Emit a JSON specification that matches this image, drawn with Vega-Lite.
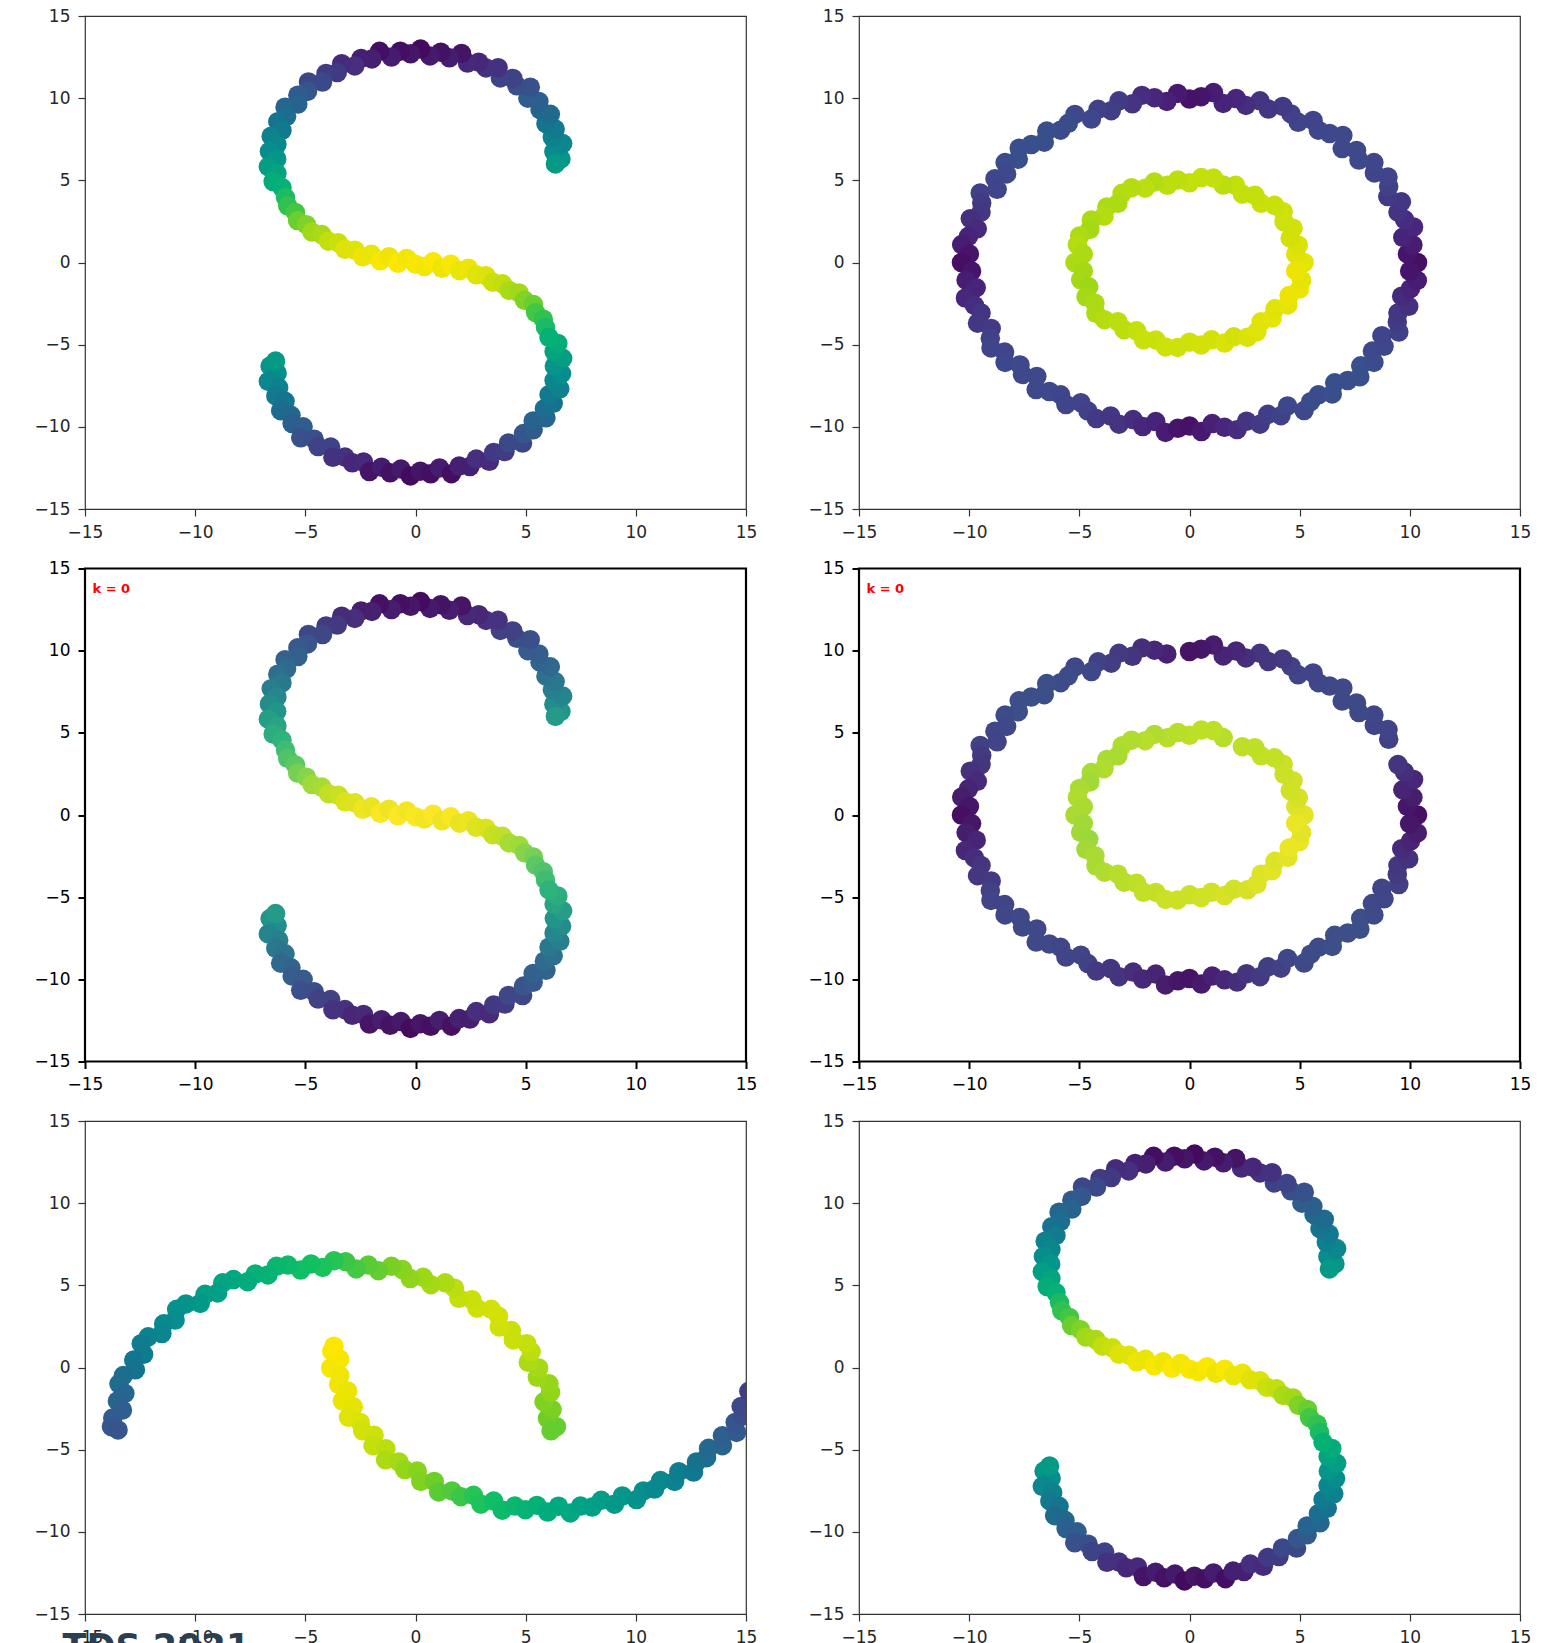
{
"$schema": "https://vega.github.io/schema/vega-lite/v6.json",
"background": "white",
"padding": {"left": 33, "top": 6, "right": 5, "bottom": 5},
"config": {
  "font": "DejaVu Sans",
  "view": {"stroke": "#333333", "strokeWidth": 1.2},
  "axis": {"grid": false, "domain": false, "tickSize": 7, "tickWidth": 1.2, "tickColor": "#333333", "labelFontSize": 17, "labelFont": "DejaVu Sans", "labelColor": "#262626", "labelPadding": 8, "labelFlush": false, "labelOverlap": false, "title": null}
},
"datasets": {
"s": [
{"x":6.6,"y":6.3},{"x":6.28,"y":6.74},{"x":6.68,"y":7.24},{"x":6.21,"y":7.62},{"x":6.34,"y":8.12},{"x":5.92,"y":8.45},{"x":6.12,"y":9.02},{"x":5.65,"y":9.3},{"x":5.6,"y":9.8},{"x":5.1,"y":10},{"x":5.21,"y":10.67},{"x":4.6,"y":10.75},{"x":4.42,"y":11.2},{"x":3.85,"y":11.23},{"x":3.75,"y":11.85},{"x":3.2,"y":11.84},{"x":2.87,"y":12.19},{"x":2.36,"y":12.14},{"x":2.09,"y":12.72},{"x":1.54,"y":12.46},{"x":1.15,"y":12.8},{"x":0.66,"y":12.57},{"x":0.23,"y":12.99},{"x":-0.22,"y":12.7},{"x":-0.69,"y":12.86},{"x":-1.09,"y":12.5},{"x":-1.63,"y":12.85},{"x":-1.98,"y":12.39},{"x":-2.47,"y":12.42},{"x":-2.76,"y":11.96},{"x":-3.35,"y":12.1},{"x":-3.55,"y":11.56},{"x":-4.06,"y":11.5},{"x":-4.22,"y":10.98},{"x":-4.86,"y":10.99},{"x":-4.9,"y":10.41},{"x":-5.34,"y":10.18},{"x":-5.34,"y":9.64},{"x":-5.92,"y":9.45},{"x":-5.85,"y":8.9},{"x":-6.25,"y":8.57},{"x":-6.06,"y":8.04},{"x":-6.55,"y":7.69},{"x":-6.29,"y":7.18},{"x":-6.63,"y":6.76},{"x":-6.3,"y":6.3},{"x":-6.68,"y":5.83},{"x":-6.29,"y":5.42},{"x":-6.46,"y":4.93},{"x":-6.06,"y":4.56},{"x":6.35,"y":6.0},
{"x":-5.9,"y":3.95},{"x":-5.8,"y":3.45},{"x":-5.45,"y":3.05},{"x":-5.35,"y":2.55},{"x":-4.95,"y":2.3},{"x":-4.7,"y":1.85},{"x":-4.25,"y":1.7},{"x":-3.95,"y":1.3},{"x":-3.5,"y":1.2},{"x":-3.2,"y":0.8},{"x":-2.75,"y":0.75},{"x":-2.4,"y":0.35},{"x":-2,"y":0.5},{"x":-1.6,"y":0.1},{"x":-1.2,"y":0.35},{"x":-0.8,"y":-0.05},{"x":-0.4,"y":0.25},{"x":0,"y":-0.1},{"x":0.4,"y":-0.25},{"x":0.8,"y":0.05},{"x":1.2,"y":-0.35},{"x":1.6,"y":-0.1},{"x":2,"y":-0.5},{"x":2.4,"y":-0.35},{"x":2.75,"y":-0.75},{"x":3.2,"y":-0.8},{"x":3.5,"y":-1.2},{"x":3.95,"y":-1.3},{"x":4.25,"y":-1.7},{"x":4.7,"y":-1.85},{"x":4.95,"y":-2.3},{"x":5.35,"y":-2.55},{"x":5.45,"y":-3.05},{"x":5.8,"y":-3.45},{"x":5.9,"y":-3.95},
{"x":-6.6,"y":-6.3},{"x":-6.28,"y":-6.74},{"x":-6.68,"y":-7.24},{"x":-6.21,"y":-7.62},{"x":-6.34,"y":-8.12},{"x":-5.92,"y":-8.45},{"x":-6.12,"y":-9.02},{"x":-5.65,"y":-9.3},{"x":-5.6,"y":-9.8},{"x":-5.1,"y":-10},{"x":-5.21,"y":-10.67},{"x":-4.6,"y":-10.75},{"x":-4.42,"y":-11.2},{"x":-3.85,"y":-11.23},{"x":-3.75,"y":-11.85},{"x":-3.2,"y":-11.84},{"x":-2.87,"y":-12.19},{"x":-2.36,"y":-12.14},{"x":-2.09,"y":-12.72},{"x":-1.54,"y":-12.46},{"x":-1.15,"y":-12.8},{"x":-0.66,"y":-12.57},{"x":-0.23,"y":-12.99},{"x":0.22,"y":-12.7},{"x":0.69,"y":-12.86},{"x":1.09,"y":-12.5},{"x":1.63,"y":-12.85},{"x":1.98,"y":-12.39},{"x":2.47,"y":-12.42},{"x":2.76,"y":-11.96},{"x":3.35,"y":-12.1},{"x":3.55,"y":-11.56},{"x":4.06,"y":-11.5},{"x":4.22,"y":-10.98},{"x":4.86,"y":-10.99},{"x":4.9,"y":-10.41},{"x":5.34,"y":-10.18},{"x":5.34,"y":-9.64},{"x":5.92,"y":-9.45},{"x":5.85,"y":-8.9},{"x":6.25,"y":-8.57},{"x":6.06,"y":-8.04},{"x":6.55,"y":-7.69},{"x":6.29,"y":-7.18},{"x":6.63,"y":-6.76},{"x":6.3,"y":-6.3},{"x":6.68,"y":-5.83},{"x":6.29,"y":-5.42},{"x":6.46,"y":-4.93},{"x":6.06,"y":-4.56},{"x":-6.35,"y":-6.0}
],
"c": [
{"x":10.35,"y":0,"c":0.04},{"x":9.89,"y":0.52,"c":0.06},{"x":10.14,"y":1.07,"c":0.08},{"x":9.68,"y":1.53,"c":0.1},{"x":10.17,"y":2.16,"c":0.11},{"x":9.76,"y":2.61,"c":0.13},{"x":9.46,"y":3.07,"c":0.15},{"x":9.62,"y":3.69,"c":0.16,"g":1},{"x":9,"y":4.01,"c":0.17,"g":1},{"x":9.04,"y":4.61,"c":0.19},{"x":9.01,"y":5.2,"c":0.2},{"x":8.39,"y":5.45,"c":0.2},{"x":8.37,"y":6.08,"c":0.21},{"x":7.69,"y":6.23,"c":0.22},{"x":7.58,"y":6.82,"c":0.22},{"x":6.93,"y":6.93,"c":0.22},{"x":6.96,"y":7.73,"c":0.22},{"x":6.36,"y":7.85,"c":0.22},{"x":5.85,"y":8.05,"c":0.21},{"x":5.61,"y":8.64,"c":0.2},{"x":4.93,"y":8.53,"c":0.2},{"x":4.61,"y":9.04,"c":0.19},{"x":4.23,"y":9.5,"c":0.17},{"x":3.58,"y":9.34,"c":0.16},{"x":3.2,"y":9.84,"c":0.15},{"x":2.56,"y":9.56,"c":0.13},{"x":2.12,"y":9.98,"c":0.11},{"x":1.53,"y":9.68,"c":0.1},{"x":1.09,"y":10.34,"c":0.08},{"x":0.53,"y":10.09,"c":0.06},
{"x":0,"y":9.95,"c":0.05},{"x":-0.54,"y":10.29,"c":0.07,"g":1},{"x":-1.03,"y":9.8,"c":0.09},{"x":-1.59,"y":10.03,"c":0.11},{"x":-2.16,"y":10.17,"c":0.13},{"x":-2.59,"y":9.66,"c":0.15},{"x":-3.2,"y":9.84,"c":0.17},{"x":-3.55,"y":9.24,"c":0.18},{"x":-4.15,"y":9.32,"c":0.19},{"x":-4.45,"y":8.73,"c":0.21},{"x":-5.2,"y":9.01,"c":0.22},{"x":-5.5,"y":8.47,"c":0.23},{"x":-5.85,"y":8.05,"c":0.23},{"x":-6.48,"y":8,"c":0.24},{"x":-6.59,"y":7.32,"c":0.24},{"x":-7.18,"y":7.18,"c":0.24},{"x":-7.73,"y":6.96,"c":0.24},{"x":-7.77,"y":6.29,"c":0.24},{"x":-8.37,"y":6.08,"c":0.23},{"x":-8.3,"y":5.39,"c":0.22},{"x":-8.83,"y":5.1,"c":0.21},{"x":-8.73,"y":4.45,"c":0.2},{"x":-9.5,"y":4.23,"c":0.19},{"x":-9.43,"y":3.62,"c":0.17},{"x":-9.46,"y":3.07,"c":0.16},{"x":-9.95,"y":2.67,"c":0.14},{"x":-9.63,"y":2.05,"c":0.12},{"x":-10.03,"y":1.59,"c":0.1},{"x":-10.34,"y":1.09,"c":0.08},{"x":-9.99,"y":0.52,"c":0.06},
{"x":-10.35,"y":0,"c":0.04},{"x":-9.89,"y":-0.52,"c":0.06},{"x":-10.14,"y":-1.07,"c":0.08},{"x":-9.68,"y":-1.53,"c":0.1},{"x":-10.17,"y":-2.16,"c":0.11},{"x":-9.76,"y":-2.61,"c":0.13},{"x":-9.46,"y":-3.07,"c":0.15},{"x":-9.62,"y":-3.69,"c":0.16},{"x":-9,"y":-4.01,"c":0.17},{"x":-9.04,"y":-4.61,"c":0.19},{"x":-9.01,"y":-5.2,"c":0.2},{"x":-8.39,"y":-5.45,"c":0.2},{"x":-8.37,"y":-6.08,"c":0.21},{"x":-7.69,"y":-6.23,"c":0.22},{"x":-7.58,"y":-6.82,"c":0.22},{"x":-6.93,"y":-6.93,"c":0.22},{"x":-6.96,"y":-7.73,"c":0.22},{"x":-6.36,"y":-7.85,"c":0.22},{"x":-5.85,"y":-8.05,"c":0.21},{"x":-5.61,"y":-8.64,"c":0.2},{"x":-4.93,"y":-8.53,"c":0.2},{"x":-4.61,"y":-9.04,"c":0.19},{"x":-4.23,"y":-9.5,"c":0.17},{"x":-3.58,"y":-9.34,"c":0.16},{"x":-3.2,"y":-9.84,"c":0.15},{"x":-2.56,"y":-9.56,"c":0.13},{"x":-2.12,"y":-9.98,"c":0.11},{"x":-1.53,"y":-9.68,"c":0.1},{"x":-1.09,"y":-10.34,"c":0.08},{"x":-0.53,"y":-10.09,"c":0.06},
{"x":0,"y":-9.95,"c":0.05},{"x":0.54,"y":-10.29,"c":0.07},{"x":1.03,"y":-9.8,"c":0.09},{"x":1.59,"y":-10.03,"c":0.11},{"x":2.16,"y":-10.17,"c":0.13},{"x":2.59,"y":-9.66,"c":0.15},{"x":3.2,"y":-9.84,"c":0.17},{"x":3.55,"y":-9.24,"c":0.18},{"x":4.15,"y":-9.32,"c":0.19},{"x":4.45,"y":-8.73,"c":0.21},{"x":5.2,"y":-9.01,"c":0.22},{"x":5.5,"y":-8.47,"c":0.23},{"x":5.85,"y":-8.05,"c":0.23},{"x":6.48,"y":-8,"c":0.24},{"x":6.59,"y":-7.32,"c":0.24},{"x":7.18,"y":-7.18,"c":0.24},{"x":7.73,"y":-6.96,"c":0.24},{"x":7.77,"y":-6.29,"c":0.24},{"x":8.37,"y":-6.08,"c":0.23},{"x":8.3,"y":-5.39,"c":0.22},{"x":8.83,"y":-5.1,"c":0.21},{"x":8.73,"y":-4.45,"c":0.2},{"x":9.5,"y":-4.23,"c":0.19},{"x":9.43,"y":-3.62,"c":0.17},{"x":9.46,"y":-3.07,"c":0.16},{"x":9.95,"y":-2.67,"c":0.14},{"x":9.63,"y":-2.05,"c":0.12},{"x":10.03,"y":-1.59,"c":0.1},{"x":10.34,"y":-1.09,"c":0.08},{"x":9.99,"y":-0.52,"c":0.06},
{"x":5.2,"y":0,"c":0.96},{"x":4.82,"y":0.51,"c":0.95},{"x":4.94,"y":1.05,"c":0.94},{"x":4.57,"y":1.48,"c":0.93},{"x":4.7,"y":2.09,"c":0.93},{"x":4.29,"y":2.48,"c":0.92},{"x":4.25,"y":3.09,"c":0.92},{"x":3.86,"y":3.48,"c":0.91},{"x":3.25,"y":3.6,"c":0.91},{"x":2.97,"y":4.09,"c":0.9},{"x":2.4,"y":4.16,"c":0.9},{"x":2.09,"y":4.7,"c":0.9,"g":1},{"x":1.53,"y":4.71,"c":0.89},{"x":1.09,"y":5.14,"c":0.9},{"x":0.54,"y":5.17,"c":0.9},
{"x":0,"y":4.85,"c":0.9},{"x":-0.53,"y":5.02,"c":0.89},{"x":-1,"y":4.7,"c":0.89},{"x":-1.59,"y":4.9,"c":0.88},{"x":-2.01,"y":4.52,"c":0.89},{"x":-2.63,"y":4.55,"c":0.88},{"x":-3.06,"y":4.21,"c":0.88},{"x":-3.25,"y":3.6,"c":0.87},{"x":-3.75,"y":3.38,"c":0.87},{"x":-3.88,"y":2.82,"c":0.88},{"x":-4.46,"y":2.58,"c":0.87},{"x":-4.52,"y":2.01,"c":0.86},{"x":-4.99,"y":1.62,"c":0.87},{"x":-5.09,"y":1.08,"c":0.88},{"x":-4.82,"y":0.51,"c":0.87},
{"x":-5.2,"y":0,"c":0.87},{"x":-4.82,"y":-0.51,"c":0.86},{"x":-4.94,"y":-1.05,"c":0.86},{"x":-4.57,"y":-1.48,"c":0.85},{"x":-4.7,"y":-2.09,"c":0.86},{"x":-4.29,"y":-2.48,"c":0.87},{"x":-4.25,"y":-3.09,"c":0.87},{"x":-3.86,"y":-3.48,"c":0.88},{"x":-3.25,"y":-3.6,"c":0.89},{"x":-2.97,"y":-4.09,"c":0.89},{"x":-2.4,"y":-4.16,"c":0.9},{"x":-2.09,"y":-4.7,"c":0.91},{"x":-1.53,"y":-4.71,"c":0.91},{"x":-1.09,"y":-5.14,"c":0.92},{"x":-0.54,"y":-5.17,"c":0.92},
{"x":0,"y":-4.85,"c":0.92},{"x":0.53,"y":-5.02,"c":0.93},{"x":1,"y":-4.7,"c":0.93},{"x":1.59,"y":-4.9,"c":0.94},{"x":2.01,"y":-4.52,"c":0.93},{"x":2.63,"y":-4.55,"c":0.94},{"x":3.06,"y":-4.21,"c":0.95},{"x":3.25,"y":-3.6,"c":0.95},{"x":3.75,"y":-3.38,"c":0.96},{"x":3.88,"y":-2.82,"c":0.95},{"x":4.46,"y":-2.58,"c":0.96},{"x":4.52,"y":-2.01,"c":0.97},{"x":4.99,"y":-1.62,"c":0.97},{"x":5.09,"y":-1.08,"c":0.96},{"x":4.82,"y":-0.51,"c":0.97}
],
"m": [
{"x":6.4,"y":-3.6,"c":0.78},{"x":5.99,"y":-3.09,"c":0.79},{"x":6.2,"y":-2.56,"c":0.8},{"x":5.83,"y":-2.09,"c":0.81},{"x":6.13,"y":-1.51,"c":0.83},{"x":6.06,"y":-0.99,"c":0.84},{"x":5.53,"y":-0.6,"c":0.85},{"x":5.59,"y":-0.03,"c":0.86},{"x":5.12,"y":0.32,"c":0.87},{"x":5.25,"y":0.96,"c":0.89},{"x":5.05,"y":1.45,"c":0.9},{"x":4.44,"y":1.68,"c":0.91},{"x":4.35,"y":2.25,"c":0.91},{"x":3.8,"y":2.47,"c":0.92},{"x":3.77,"y":3.12,"c":0.93},{"x":3.44,"y":3.54,"c":0.93},{"x":2.79,"y":3.61,"c":0.92},{"x":2.56,"y":4.13,"c":0.91},{"x":1.97,"y":4.21,"c":0.9},{"x":1.77,"y":4.83,"c":0.89},{"x":1.35,"y":5.15,"c":0.87},{"x":0.7,"y":5.04,"c":0.86},{"x":0.35,"y":5.49,"c":0.85},{"x":-0.24,"y":5.41,"c":0.83},{"x":-0.59,"y":5.96,"c":0.82},{"x":-1.09,"y":6.16,"c":0.8},{"x":-1.68,"y":5.89,"c":0.78},{"x":-2.14,"y":6.23,"c":0.77},{"x":-2.69,"y":6,"c":0.75},{"x":-3.17,"y":6.44,"c":0.74},{"x":-3.7,"y":6.5,"c":0.72},{"x":-4.21,"y":6.09,"c":0.71},{"x":-4.74,"y":6.3,"c":0.7},{"x":-5.21,"y":5.93,"c":0.69},{"x":-5.79,"y":6.23,"c":0.67},{"x":-6.31,"y":6.16,"c":0.66},{"x":-6.7,"y":5.63,"c":0.64},{"x":-7.27,"y":5.69,"c":0.63},{"x":-7.62,"y":5.22,"c":0.61},{"x":-8.26,"y":5.35,"c":0.59},{"x":-8.75,"y":5.15,"c":0.58},{"x":-8.98,"y":4.54,"c":0.56},{"x":-9.55,"y":4.45,"c":0.55},{"x":-9.77,"y":3.9,"c":0.53},{"x":-10.42,"y":3.87,"c":0.51},{"x":-10.84,"y":3.54,"c":0.5},{"x":-10.91,"y":2.89,"c":0.48},{"x":-11.43,"y":2.66,"c":0.47},{"x":-11.51,"y":2.07,"c":0.45},{"x":-12.13,"y":1.87,"c":0.44},{"x":-12.45,"y":1.45,"c":0.42},{"x":-12.34,"y":0.8,"c":0.41},{"x":-12.79,"y":0.45,"c":0.39},{"x":-12.71,"y":-0.14,"c":0.38},{"x":-13.26,"y":-0.49,"c":0.36},{"x":-13.46,"y":-0.99,"c":0.35},{"x":-13.19,"y":-1.58,"c":0.33},{"x":-13.53,"y":-2.04,"c":0.32},{"x":-13.3,"y":-2.59,"c":0.3},{"x":-13.74,"y":-3.07,"c":0.29},{"x":-13.8,"y":-3.6,"c":0.27},{"x":-13.5,"y":-3.8,"c":0.26},{"x":6.15,"y":-3.85,"c":0.78},
{"x":-3.8,"y":1,"c":1},{"x":-3.44,"y":0.51,"c":0.99},{"x":-3.85,"y":-0.03,"c":0.99},{"x":-3.43,"y":-0.49,"c":0.98},{"x":-3.49,"y":-1.02,"c":0.98},{"x":-3.08,"y":-1.43,"c":0.97},{"x":-3.32,"y":-2.03,"c":0.97},{"x":-2.82,"y":-2.39,"c":0.96},{"x":-3.04,"y":-3.03,"c":0.95},{"x":-2.51,"y":-3.34,"c":0.94},{"x":-2.4,"y":-3.85,"c":0.93},{"x":-1.88,"y":-4.12,"c":0.92},{"x":-1.93,"y":-4.76,"c":0.9},{"x":-1.34,"y":-4.95,"c":0.89},{"x":-1.36,"y":-5.62,"c":0.87},{"x":-0.75,"y":-5.75,"c":0.86},{"x":-0.49,"y":-6.21,"c":0.84},{"x":0.08,"y":-6.3,"c":0.82},{"x":0.24,"y":-6.93,"c":0.81},{"x":0.85,"y":-6.93,"c":0.79},{"x":1.05,"y":-7.57,"c":0.77},{"x":1.66,"y":-7.51,"c":0.76},{"x":2.06,"y":-7.86,"c":0.74},{"x":2.63,"y":-7.78,"c":0.72},{"x":2.97,"y":-8.32,"c":0.71},{"x":3.55,"y":-8.13,"c":0.69},{"x":3.94,"y":-8.68,"c":0.67},{"x":4.51,"y":-8.43,"c":0.66},{"x":4.99,"y":-8.65,"c":0.64},{"x":5.51,"y":-8.39,"c":0.63},{"x":6,"y":-8.8,"c":0.61},{"x":6.49,"y":-8.44,"c":0.6},{"x":7.03,"y":-8.85,"c":0.59},{"x":7.49,"y":-8.43,"c":0.57},{"x":8.02,"y":-8.49,"c":0.56},{"x":8.43,"y":-8.08,"c":0.55},{"x":9.03,"y":-8.32,"c":0.53},{"x":9.39,"y":-7.82,"c":0.52},{"x":10.03,"y":-8.04,"c":0.5},{"x":10.34,"y":-7.51,"c":0.49},{"x":10.85,"y":-7.4,"c":0.47},{"x":11.12,"y":-6.88,"c":0.46},{"x":11.76,"y":-6.93,"c":0.44},{"x":11.95,"y":-6.34,"c":0.42},{"x":12.62,"y":-6.36,"c":0.4},{"x":12.75,"y":-5.75,"c":0.38},{"x":13.21,"y":-5.49,"c":0.36},{"x":13.3,"y":-4.92,"c":0.34},{"x":13.93,"y":-4.76,"c":0.32},{"x":13.93,"y":-4.15,"c":0.3},{"x":14.57,"y":-3.95,"c":0.28},{"x":14.51,"y":-3.34,"c":0.26},{"x":14.86,"y":-2.94,"c":0.24},{"x":14.78,"y":-2.37,"c":0.22},{"x":15.32,"y":-2.03,"c":0.2},{"x":15.13,"y":-1.45,"c":0.18},{"x":15.68,"y":-1.06,"c":0.16},{"x":-3.7,"y":1.3,"c":1}
]
},
"columns": 2,
"spacing": {"row": 59.5, "column": 113},
"bounds": "flush",
"resolve": {"scale": {"x": "independent", "y": "independent", "color": "independent"}},
"concat": [
{
  "width": 661, "height": 493,
  "data": {"name": "s"},
  "mark": {"type": "circle", "clip": true, "size": 380, "opacity": 1},
  "encoding": {
    "x": {"field": "x", "type": "quantitative", "scale": {"domain": [-15, 15], "nice": false, "zero": false}, "axis": {"values": [-15, -10, -5, 0, 5, 10, 15]}},
    "y": {"field": "y", "type": "quantitative", "scale": {"domain": [-15, 15], "nice": false, "zero": false}, "axis": {"values": [-15, -10, -5, 0, 5, 10, 15]}},
    "color": {"field": "y", "type": "quantitative", "legend": null, "scale": {"domain": [-13,-12,-10.5,-8.5,-6.5,-4.5,-3,-2,-1,0,1,2,3,4.5,6.5,8.5,10.5,12,13], "range": ["#440a5e","#462e7f","#36558d","#15738f","#05928c","#05b274","#44c842","#98d61a","#d5e20a","#fde700","#d5e20a","#98d61a","#44c842","#05b274","#05928c","#15738f","#36558d","#462e7f","#440a5e"], "clamp": true, "interpolate": "rgb"}}
  }
},
{
  "width": 661, "height": 493,
  "data": {"name": "c"},
  "mark": {"type": "circle", "clip": true, "size": 380, "opacity": 1},
  "encoding": {
    "x": {"field": "x", "type": "quantitative", "scale": {"domain": [-15, 15], "nice": false, "zero": false}, "axis": {"values": [-15, -10, -5, 0, 5, 10, 15]}},
    "y": {"field": "y", "type": "quantitative", "scale": {"domain": [-15, 15], "nice": false, "zero": false}, "axis": {"values": [-15, -10, -5, 0, 5, 10, 15]}},
    "color": {"field": "c", "type": "quantitative", "legend": null, "scale": {"domain": [0,0.1,0.2,0.3,0.4,0.5,0.6,0.7,0.8,0.9,1], "range": ["#440154","#48237a","#40448a","#2f5f8f","#10788f","#05928c","#00aa80","#12c062","#78d022","#c3df0c","#fde700"], "interpolate": "rgb"}}
  }
},
{
  "width": 661, "height": 493,
  "view": {"stroke": "#000000", "strokeWidth": 2.2},
  "layer": [
    {
      "data": {"name": "s"},
      "mark": {"type": "circle", "clip": true, "size": 380, "opacity": 1},
      "encoding": {
        "x": {"field": "x", "type": "quantitative", "scale": {"domain": [-15, 15], "nice": false, "zero": false}, "axis": {"values": [-15, -10, -5, 0, 5, 10, 15], "tickColor": "#000000", "tickWidth": 2, "labelColor": "#000000"}},
        "y": {"field": "y", "type": "quantitative", "scale": {"domain": [-15, 15], "nice": false, "zero": false}, "axis": {"values": [-15, -10, -5, 0, 5, 10, 15], "tickColor": "#000000", "tickWidth": 2, "labelColor": "#000000"}},
        "color": {"field": "y", "type": "quantitative", "legend": null, "scale": {"domain": [-13,-12,-10.5,-8.5,-6.5,-4.5,-3,-2,-1,0,1,2,3,4.5,6.5,8.5,10.5,12,13], "range": ["#460b5e","#472e7c","#3a548c","#2d718e","#21918c","#2fb47c","#5ec962","#95d840","#d2e21b","#fde725","#d2e21b","#95d840","#5ec962","#2fb47c","#21918c","#2d718e","#3a548c","#472e7c","#460b5e"], "clamp": true, "interpolate": "rgb"}}
      }
    },
    {
      "data": {"values": [{}]},
      "mark": {"type": "text", "text": "k = 0", "align": "left", "baseline": "alphabetic", "font": "DejaVu Sans", "fontWeight": "bold", "fontSize": 13, "color": "#ff0000"},
      "encoding": {"x": {"datum": -14.66, "type": "quantitative"}, "y": {"datum": 13.5, "type": "quantitative"}}
    }
  ]
},
{
  "width": 661, "height": 493,
  "view": {"stroke": "#000000", "strokeWidth": 2.2},
  "layer": [
    {
      "data": {"name": "c"},
      "transform": [{"filter": "datum.g !== 1"}],
      "mark": {"type": "circle", "clip": true, "size": 380, "opacity": 1},
      "encoding": {
        "x": {"field": "x", "type": "quantitative", "scale": {"domain": [-15, 15], "nice": false, "zero": false}, "axis": {"values": [-15, -10, -5, 0, 5, 10, 15], "tickColor": "#000000", "tickWidth": 2, "labelColor": "#000000"}},
        "y": {"field": "y", "type": "quantitative", "scale": {"domain": [-15, 15], "nice": false, "zero": false}, "axis": {"values": [-15, -10, -5, 0, 5, 10, 15], "tickColor": "#000000", "tickWidth": 2, "labelColor": "#000000"}},
        "color": {"field": "c", "type": "quantitative", "legend": null, "scale": {"domain": [0,0.1,0.2,0.3,0.4,0.5,0.6,0.7,0.8,0.9,1], "range": ["#440154","#482475","#414487","#355f8d","#2a788e","#21918c","#22a884","#44bf70","#7ad151","#bddf26","#fde725"], "interpolate": "rgb"}}
      }
    },
    {
      "data": {"values": [{}]},
      "mark": {"type": "text", "text": "k = 0", "align": "left", "baseline": "alphabetic", "font": "DejaVu Sans", "fontWeight": "bold", "fontSize": 13, "color": "#ff0000"},
      "encoding": {"x": {"datum": -14.66, "type": "quantitative"}, "y": {"datum": 13.5, "type": "quantitative"}}
    }
  ]
},
{
  "width": 661, "height": 493,
  "layer": [
    {
      "data": {"name": "m"},
      "mark": {"type": "circle", "clip": true, "size": 380, "opacity": 1},
      "encoding": {
        "x": {"field": "x", "type": "quantitative", "scale": {"domain": [-15, 15], "nice": false, "zero": false}, "axis": {"values": [-15, -10, -5, 0, 5, 10, 15]}},
        "y": {"field": "y", "type": "quantitative", "scale": {"domain": [-15, 15], "nice": false, "zero": false}, "axis": {"values": [-15, -10, -5, 0, 5, 10, 15]}},
        "color": {"field": "c", "type": "quantitative", "legend": null, "scale": {"domain": [0,0.1,0.2,0.3,0.4,0.5,0.6,0.7,0.8,0.9,1], "range": ["#440154","#48237a","#40448a","#2f5f8f","#10788f","#05928c","#00aa80","#12c062","#78d022","#c3df0c","#fde700"], "interpolate": "rgb"}}
      }
    },
    {
      "data": {"values": [{}]},
      "mark": {"type": "text", "text": "TDS 2021", "align": "left", "baseline": "top", "font": "DejaVu Sans", "fontWeight": "bold", "fontSize": 35, "color": "#2c3e50", "clip": false},
      "encoding": {"x": {"datum": -16.02, "type": "quantitative"}, "y": {"datum": -16.05, "type": "quantitative"}}
    }
  ]
},
{
  "width": 661, "height": 493,
  "data": {"name": "s"},
  "mark": {"type": "circle", "clip": true, "size": 380, "opacity": 1},
  "encoding": {
    "x": {"field": "x", "type": "quantitative", "scale": {"domain": [-15, 15], "nice": false, "zero": false}, "axis": {"values": [-15, -10, -5, 0, 5, 10, 15]}},
    "y": {"field": "y", "type": "quantitative", "scale": {"domain": [-15, 15], "nice": false, "zero": false}, "axis": {"values": [-15, -10, -5, 0, 5, 10, 15]}},
    "color": {"field": "y", "type": "quantitative", "legend": null, "scale": {"domain": [-13,-12,-10.5,-8.5,-6.5,-4.5,-3,-2,-1,0,1,2,3,4.5,6.5,8.5,10.5,12,13], "range": ["#440a5e","#462e7f","#36558d","#15738f","#05928c","#05b274","#44c842","#98d61a","#d5e20a","#fde700","#d5e20a","#98d61a","#44c842","#05b274","#05928c","#15738f","#36558d","#462e7f","#440a5e"], "clamp": true, "interpolate": "rgb"}}
  }
}
]
}
